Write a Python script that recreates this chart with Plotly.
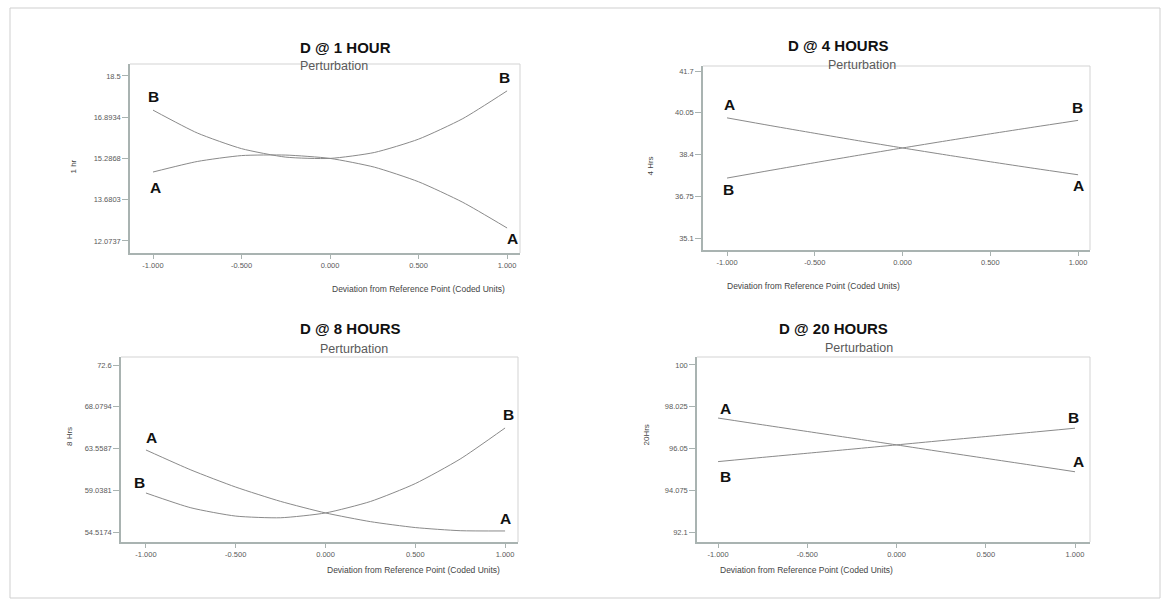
import plotly.graph_objects as go

W, H = 1169, 601

# Coded deviation of each factor from the reference point
deviation = [-1.0, -0.75, -0.5, -0.25, 0.0, 0.25, 0.5, 0.75, 1.0]
x_ticks = [-1.0, -0.5, 0.0, 0.5, 1.0]
x_tick_text = ["-1.000", "-0.500", "0.000", "0.500", "1.000"]

# D @ 1 hour
h1_a = [14.76, 15.17, 15.40, 15.42, 15.29, 14.95, 14.38, 13.58, 12.58]
h1_b = [17.17, 16.28, 15.67, 15.34, 15.29, 15.52, 16.04, 16.84, 17.92]
h1_ticks = [12.0737, 13.6803, 15.2868, 16.8934, 18.5]

# D @ 4 hours
h4_a = [39.85, 39.54, 39.24, 38.945, 38.66, 38.383, 38.114, 37.853, 37.60]
h4_b = [37.47, 37.777, 38.078, 38.372, 38.66, 38.942, 39.218, 39.487, 39.75]
h4_ticks = [35.1, 36.75, 38.4, 40.05, 41.7]

# D @ 8 hours
h8_a = [63.40, 61.24, 59.38, 57.83, 56.58, 55.64, 55.00, 54.66, 54.63]
h8_b = [58.74, 57.14, 56.24, 56.06, 56.58, 57.82, 59.76, 62.42, 65.78]
h8_ticks = [54.5174, 59.0381, 63.5587, 68.0794, 72.6]

# D @ 20 hours
h20_a = [97.49, 97.17, 96.855, 96.54, 96.22, 95.90, 95.585, 95.27, 94.95]
h20_b = [95.43, 95.63, 95.825, 96.02, 96.22, 96.42, 96.615, 96.81, 97.01]
h20_ticks = [92.1, 94.075, 96.05, 98.025, 100]

titles = ["D @ 1 HOUR", "D @ 4 HOURS", "D @ 8 HOURS", "D @ 20 HOURS"]
y_titles = ["1 hr", "4 Hrs", "8 Hrs", "20Hrs"]
x_title = "Deviation from Reference Point (Coded Units)"

FONT = "Arial, Liberation Sans, sans-serif"
AXIS_GREY = "#a9b3b1"
FRAME_GREY = "#d3d3d3"
CURVE_GREY = "#8a8a8a"
TEXT_GREY = "#5a5a5a"


def fx(p):
    return p / W


def fy(p):
    return 1 - p / H


# Panel frames in pixels: plot box (left, right, top, bottom), axis ranges,
# title centres, axis-title centres, and end-label offsets (A/B) in pixels.
panels = [
    dict(a=h1_a, b=h1_b, ticks=h1_ticks, box=(130, 520, 64, 253),
         xr=(-1.13, 1.073), yr=(11.606, 18.967),
         title=(298, 37), sub=(298, 57), xt=(330, 289), yt=(66, 158),
         lab={"a0": (2, -15), "a1": (5, -11), "b0": (0, 14), "b1": (-3, 13)}),
    dict(a=h4_a, b=h4_b, ticks=h4_ticks, box=(703, 1090, 66, 250),
         xr=(-1.137, 1.068), yr=(34.626, 41.9),
         title=(890, 35), sub=(898, 56), xt=(902, 286), yt=(650, 155),
         lab={"a0": (2, 13), "a1": (0, -11), "b0": (1, -11), "b1": (-1, 13)}),
    dict(a=h8_a, b=h8_b, ticks=h8_ticks, box=(121, 518, 357, 542),
         xr=(-1.139, 1.072), yr=(53.435, 73.466),
         title=(298, 328), sub=(318, 349), xt=(325, 577), yt=(63, 448),
         lab={"a0": (6, 12), "a1": (0, 12), "b0": (-6, 11), "b1": (3, 13)}),
    dict(a=h20_a, b=h20_b, ticks=h20_ticks, box=(697, 1090, 357, 542),
         xr=(-1.118, 1.084), yr=(91.627, 100.378),
         title=(890, 328), sub=(895, 348), xt=(895, 577), yt=(646, 448),
         lab={"a0": (7, 10), "a1": (3, 10), "b0": (7, -15), "b1": (-2, 11)}),
]

fig = go.Figure()
annotations = []
shapes = []
layout_axes = {}

for i, p in enumerate(panels, start=1):
    xa = "x" if i == 1 else f"x{i}"
    ya = "y" if i == 1 else f"y{i}"
    xkey = "xaxis" if i == 1 else f"xaxis{i}"
    ykey = "yaxis" if i == 1 else f"yaxis{i}"
    l, r, t, btm = p["box"]

    for series in (p["a"], p["b"]):
        fig.add_trace(go.Scatter(
            x=deviation, y=series, mode="lines",
            line=dict(color=CURVE_GREY, width=1, shape="spline", smoothing=0.6),
            xaxis=xa, yaxis=ya, showlegend=False, hoverinfo="skip"))

    layout_axes[xkey] = dict(
        domain=[fx(l), fx(r)], range=list(p["xr"]), anchor=ya,
        tickvals=x_ticks, ticktext=x_tick_text, ticks="outside", ticklen=4,
        tickcolor=AXIS_GREY, tickfont=dict(size=7.5, color=TEXT_GREY, family=FONT),
        showgrid=False, zeroline=False, showline=True, linecolor=AXIS_GREY,
        linewidth=1.5)
    layout_axes[ykey] = dict(
        domain=[fy(btm), fy(t)], range=list(p["yr"]), anchor=xa,
        tickvals=p["ticks"], ticktext=[str(v) for v in p["ticks"]],
        ticks="outside", ticklen=6, tickcolor=AXIS_GREY,
        tickfont=dict(size=7.5, color=TEXT_GREY, family=FONT),
        showgrid=False, zeroline=False, showline=True, linecolor=AXIS_GREY,
        linewidth=1.5)

    # light top and right edges of the plot box
    shapes.append(dict(type="line", xref="paper", yref="paper",
                       x0=fx(l), x1=fx(r), y0=fy(t), y1=fy(t),
                       line=dict(color=FRAME_GREY, width=1)))
    shapes.append(dict(type="line", xref="paper", yref="paper",
                       x0=fx(r), x1=fx(r), y0=fy(t), y1=fy(btm),
                       line=dict(color=FRAME_GREY, width=1)))

    # end labels naming each curve's factor
    ends = {"a0": ("A", p["a"][0], deviation[0]), "a1": ("A", p["a"][-1], deviation[-1]),
            "b0": ("B", p["b"][0], deviation[0]), "b1": ("B", p["b"][-1], deviation[-1])}
    for key, (txt, yv, xv) in ends.items():
        dx, dy = p["lab"][key]
        annotations.append(dict(
            x=xv, y=yv, xref=xa, yref=ya, text=txt, showarrow=False,
            xshift=dx, yshift=dy,
            font=dict(size=15.5, color="#111111", family=FONT, weight="bold")))

    tx, ty = p["title"]
    annotations.append(dict(
        x=fx(tx), y=fy(ty), xref="paper", yref="paper", text=titles[i - 1],
        showarrow=False, font=dict(size=15, color="#111111", family=FONT, weight="bold")))
    sx, sy = p["sub"]
    annotations.append(dict(
        x=fx(sx), y=fy(sy), xref="paper", yref="paper", text="Perturbation",
        showarrow=False, font=dict(size=12.5, color=TEXT_GREY, family=FONT)))
    ax_, ay_ = p["xt"]
    annotations.append(dict(
        x=fx(ax_), y=fy(ay_), xref="paper", yref="paper", text=x_title,
        showarrow=False, font=dict(size=8.5, color="#444444", family=FONT)))
    yx, yy = p["yt"]
    annotations.append(dict(
        x=fx(yx), y=fy(yy), xref="paper", yref="paper", text=y_titles[i - 1],
        textangle=-90, showarrow=False,
        font=dict(size=8, color="#444444", family=FONT)))

# outer page frame
shapes.append(dict(type="rect", xref="paper", yref="paper",
                   x0=fx(10), x1=fx(1160), y0=fy(598), y1=fy(8),
                   line=dict(color="#cfcfcf", width=1)))

fig.update_layout(
    width=W, height=H, margin=dict(l=0, r=0, t=0, b=0),
    paper_bgcolor="white", plot_bgcolor="white",
    annotations=annotations, shapes=shapes,
    **layout_axes)

fig.write_html("out.html")
